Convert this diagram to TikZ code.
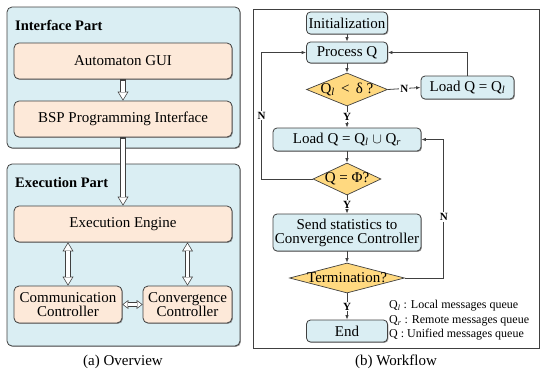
\documentclass[tikz,border=0pt]{standalone}
\usepackage{fontspec}
\setmainfont{Liberation Serif}
\usepackage{tikz}
\definecolor{bgblue}{RGB}{218, 238, 243}
\definecolor{cream}{RGB}{253, 233, 217}
\definecolor{gold}{RGB}{255, 217, 128}
\definecolor{edge}{RGB}{64, 64, 64}
\usetikzlibrary{shapes.geometric}
\usetikzlibrary{arrows.meta}
\usetikzlibrary{shadows}

\begin{document}
\begin{tikzpicture}[
  every node/.style={font=\fontsize{15}{17}\selectfont},
  softshadow/.style={drop shadow={shadow xshift=0.9pt, shadow yshift=-0.9pt, fill=black!55, opacity=0.7}},
  panel/.style={rectangle, rounded corners=5pt, fill=bgblue, draw=edge, line width=0.8pt, inner sep=0pt, softshadow},
  partbox/.style={rectangle, rounded corners=5pt, fill=cream, draw=edge, line width=0.8pt, inner sep=1pt, align=center, softshadow},
  flowbox/.style={rectangle, rounded corners=4pt, fill=bgblue, draw=edge, line width=0.8pt, inner sep=1pt, align=center, softshadow},
  decision/.style={diamond, fill=gold, draw=edge, line width=0.7pt, inner sep=0pt},
  hollow out/.style={draw=edge, line width=5.2pt},
  hollow in/.style={draw=white, line width=3.8pt, shorten >=1.35pt, shorten <=1.35pt},
  outtip/.tip={Triangle[length=9pt, width=11pt, line width=0pt]},
  intip/.tip={Triangle[length=6.9pt, width=8.4pt, line width=0pt]},
  smallout/.tip={Triangle[length=6pt, width=9pt, line width=0pt]},
  smallin/.tip={Triangle[length=4.1pt, width=6.2pt, line width=0pt]},
  flow/.style={draw=edge, line width=0.8pt, -{Latex[length=4.5pt, width=3.5pt]}},
  yn/.style={font=\fontsize{11}{13}\selectfont\bfseries, fill=white, inner sep=1pt}
]
\useasboundingbox (0pt, 0pt) rectangle (540pt, -370pt);

% (a) overview
\node (ipart) [panel, minimum width=233pt, minimum height=141pt] at (123.5pt, -77.5pt) {};
\node (epart) [panel, minimum width=233pt, minimum height=182pt] at (123.5pt, -255.0pt) {};
\node (ititle) [anchor=west, inner sep=0pt, font=\fontsize{14.5}{17}\selectfont\bfseries] at (15pt, -25pt) {Interface Part};
\node (etitle) [anchor=west, inner sep=0pt, font=\fontsize{14.5}{17}\selectfont\bfseries] at (15pt, -183pt) {Execution Part};
\node (gui) [partbox, minimum width=218pt, minimum height=36pt] at (123pt, -61pt) {Automaton GUI};
\node (bsp) [partbox, minimum width=218pt, minimum height=36pt] at (123pt, -119pt) {BSP Programming Interface};
\node (engine) [partbox, minimum width=218pt, minimum height=36pt] at (123pt, -224pt) {Execution Engine};
\node (comm) [partbox, minimum width=108pt, minimum height=37pt] at (68pt, -304.5pt) {Communication\\[-3pt]Controller};
\node (conv) [partbox, minimum width=89pt, minimum height=37pt] at (187.5pt, -304.5pt) {Convergence\\[-3pt]Controller};
\draw [hollow out, -outtip] (gui) to (bsp);
\draw [hollow in, -intip] (gui) to (bsp);
\draw [hollow out, -outtip] (bsp) to (engine);
\draw [hollow in, -intip] (bsp) to (engine);
\draw [hollow out, outtip-outtip] (engine.south -| comm.north) to (comm.north);
\draw [hollow in, intip-intip] (engine.south -| comm.north) to (comm.north);
\draw [hollow out, outtip-outtip] (engine.south -| conv.north) to (conv.north);
\draw [hollow in, intip-intip] (engine.south -| conv.north) to (conv.north);
\draw [hollow out, smallout-smallout] (comm.east) to (conv.west);
\draw [hollow in, shorten >=1.17pt, shorten <=1.17pt, smallin-smallin] (comm.east) to (conv.west);
\node (capa) at (123pt, -362pt) {(a) Overview};

% (b) workflow
\draw [line width=0.8pt, color=edge] (253pt, -9pt) rectangle (539pt, -348pt);
\node (init) [flowbox, minimum width=81pt, minimum height=22pt] at (347pt, -23pt) {Initialization};
\node (proc) [flowbox, minimum width=81pt, minimum height=21pt] at (347pt, -52.5pt) {Process Q};
\node (dec1) [decision, minimum width=81pt, minimum height=33pt, label=center:{Q\textsubscript{\textit{l}} \,<\, δ ?}] at (347pt, -89.5pt) {};
\node (loadl) [flowbox, minimum width=93pt, minimum height=23pt] at (467.5pt, -87.5pt) {Load Q = Q\textsubscript{\textit{l}}};
\node (loadlr) [flowbox, minimum width=148pt, minimum height=23pt] at (347pt, -139.5pt) {Load Q = Q\textsubscript{\textit{l}} $\cup$ Q\textsubscript{\textit{r}}};
\node (dec2) [decision, minimum width=68pt, minimum height=32pt, label=center:{Q = Φ?}] at (347pt, -179pt) {};
\node (send) [flowbox, minimum width=148pt, minimum height=37pt] at (347pt, -232.5pt) {Send statistics to\\[-3pt]Convergence Controller};
\node (dec3) [decision, minimum width=115pt, minimum height=30pt, label=center:{Termination?}] at (347pt, -278pt) {};
\node (endn) [flowbox, minimum width=81pt, minimum height=22pt] at (347pt, -331pt) {End};
\node (legend) [anchor=west, align=left, inner sep=0pt, font=\fontsize{12}{14.5}\selectfont] at (389pt, -320.5pt)
  {Q\textsubscript{\textit{l}} : Local messages queue\\Q\textsubscript{\textit{r}} : Remote messages queue\\Q : Unified messages queue};
\draw [flow] (init) to (proc);
\draw [flow] (proc) to (dec1);
\draw [flow] (dec1) to node [yn] {Y} (loadlr);
\draw [flow] (dec1.east) to node [yn] {N} (loadl.west);
\draw [flow] (loadl.north) |- (proc.east);
\draw [flow] (loadlr) to (dec2);
\draw [flow] (dec2) to node [yn] {Y} (send);
\draw [flow] (dec2.west) -- ++(-51pt, 0pt) |- node [yn, pos=0.25] {N} (proc.west);
\draw [flow] (send) to (dec3);
\draw [flow] (dec3) to node [yn] {Y} (endn);
\draw [flow] (dec3.east) -- ++(39pt, 0pt) |- node [yn, pos=0.22] {N} (loadlr.east);
\node (capb) at (396pt, -362pt) {(b) Workflow};
\end{tikzpicture}
\end{document}
